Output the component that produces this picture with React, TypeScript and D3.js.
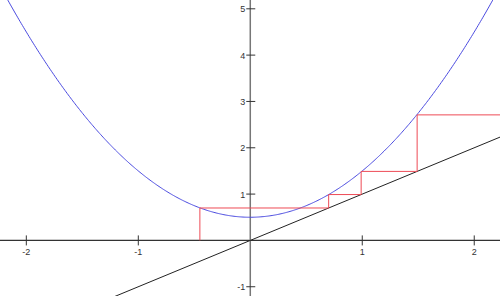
import React from "react";
import * as d3 from "d3";

const W = 500;
const H = 296;

// axis ranges (data units)
const xDomain = [-2.235, 2.23];
const yDomain = [-1.2, 5.19];

const xTicks = [-2, -1, 1, 2];
const yTicks = [-1, 1, 2, 3, 4, 5];

// parabola f(x) = a*x^2 + c
const parabolaA = 1;
const parabolaC = 0.5;

// cobweb iteration values
const cobwebX = [-0.45, 0.7, 0.99, 1.49];
const cobwebY = [0.7, 0.99, 1.49, 2.71];

export default function App() {
  const x = d3.scaleLinear().domain(xDomain).range([0, W]);
  const y = d3.scaleLinear().domain(yDomain).range([H, 0]);

  const samples = d3.range(xDomain[0], xDomain[1] + 0.01, 0.01);
  const curve = d3
    .line<number>()
    .x((d) => x(d))
    .y((d) => y(parabolaA * d * d + parabolaC))(samples);

  const diag = d3
    .line<number>()
    .x((d) => x(d))
    .y((d) => y(d))([xDomain[0], xDomain[1]]);

  const pts: [number, number][] = [[cobwebX[0], 0]];
  cobwebX.forEach((cx, i) => {
    pts.push([cx, cobwebY[i]]);
    const nx = i + 1 < cobwebX.length ? cobwebX[i + 1] : xDomain[1] + 0.1;
    pts.push([nx, cobwebY[i]]);
  });
  const cobweb = d3
    .line<[number, number]>()
    .x((d) => x(d[0]))
    .y((d) => y(d[1]))(pts);

  const x0 = x(0);
  const y0 = y(0);
  const font = "'Liberation Sans', Arial, sans-serif";

  return (
    <svg
      width={W}
      height={H}
      style={{ position: "fixed", left: 0, top: 0, background: "#fff" }}
    >
      {/* x axis */}
      <line x1={0} x2={W} y1={y0} y2={y0} stroke="#333" strokeWidth={1.2} />
      {/* y axis */}
      <line x1={x0} x2={x0} y1={0} y2={H} stroke="#777" strokeWidth={1.5} />
      {xTicks.map((t) => (
        <g key={"x" + t}>
          <line x1={x(t)} x2={x(t)} y1={y0 - 5} y2={y0 + 5} stroke="#333" strokeWidth={1} />
          <text
            x={x(t)}
            y={y0 + 15}
            fontSize={9}
            fontFamily={font}
            fill="#333"
            textAnchor="middle"
          >
            {t}
          </text>
        </g>
      ))}
      {yTicks.map((t) => (
        <g key={"y" + t}>
          <line x1={x0 - 4} x2={x0 + 5} y1={y(t)} y2={y(t)} stroke="#333" strokeWidth={1} />
          <text
            x={x0 - 5}
            y={y(t) + 3.5}
            fontSize={9}
            fontFamily={font}
            fill="#333"
            textAnchor="end"
          >
            {t}
          </text>
        </g>
      ))}
      <path d={diag || ""} fill="none" stroke="#222" strokeWidth={1} />
      <path d={curve || ""} fill="none" stroke="#4a4ae0" strokeWidth={1} />
      <path d={cobweb || ""} fill="none" stroke="#ee4a55" strokeWidth={1} />
    </svg>
  );
}
